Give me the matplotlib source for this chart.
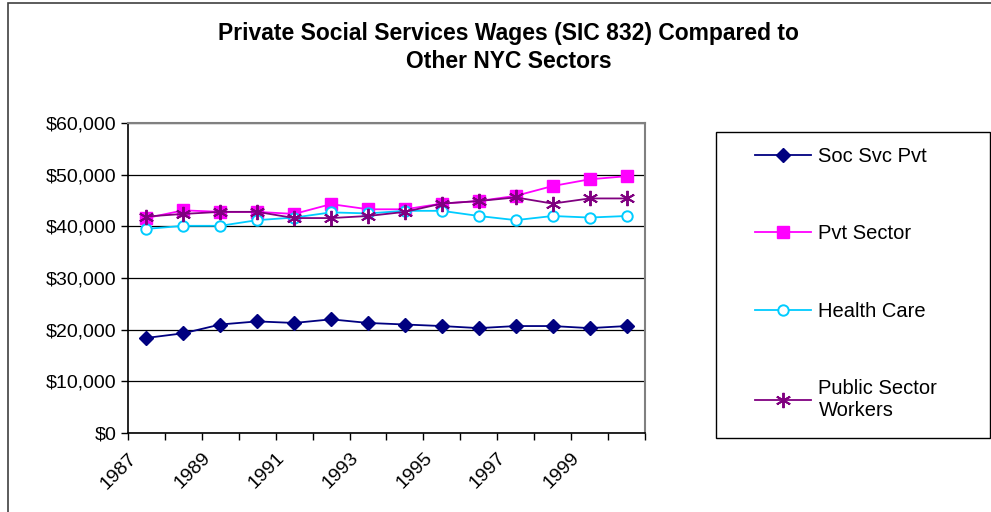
import matplotlib
matplotlib.use("Agg")
import matplotlib.pyplot as plt
from matplotlib.patches import Rectangle
from matplotlib.ticker import FuncFormatter

plt.rcParams['font.family'] = ['Liberation Sans', 'DejaVu Sans']

years = list(range(1987, 2001))
soc_svc_pvt = [18400, 19300, 21000, 21600, 21300, 22000, 21300,
               21000, 20700, 20300, 20700, 20700, 20300, 20700]
pvt_sector = [41600, 43100, 42800, 42800, 42400, 44300, 43300,
              43300, 44400, 44900, 45900, 47800, 49100, 49700]
health_care = [39500, 40100, 40100, 41200, 41700, 42700, 42500,
               43000, 43000, 42000, 41200, 42000, 41700, 42000]
public_sector = [41900, 42400, 42800, 42800, 41600, 41600, 42000,
                 42800, 44400, 44900, 45600, 44400, 45400, 45400]
labels = ['Soc Svc Pvt', 'Pvt Sector', 'Health Care', 'Public Sector\nWorkers']

fig = plt.figure(figsize=(9.91, 5.12), dpi=100)
ax = fig.add_axes([128/991, 1 - 433/512, (645 - 128)/991, (433 - 123)/512])

x = [i + 0.5 for i in range(len(years))]
h1, = ax.plot(x, soc_svc_pvt, color='#000080', marker='D', ms=7.5, lw=1.3, zorder=3)
h2, = ax.plot(x, pvt_sector, color='#FF00FF', marker='s', ms=8.5, lw=1.3, zorder=3)
h3, = ax.plot(x, health_care, color='#00CCFF', marker='o', ms=7.5, mfc='white',
              mew=1.4, lw=1.3, zorder=3)
h4, = ax.plot(x, public_sector, color='#800080', marker=(6, 2, 0), ms=11,
              mew=1.4, lw=1.3, zorder=3)

ax.set_xlim(0, len(years))
ax.set_ylim(0, 60000)
ax.set_yticks(range(0, 60001, 10000))
ax.yaxis.set_major_formatter(FuncFormatter(lambda v, p: '${:,.0f}'.format(v)))
ax.grid(axis='y', color='black', lw=0.9)
ax.set_axisbelow(True)

ax.set_xticks(range(0, len(years) + 1))
ax.set_xticklabels([str(y) if (y - 1987) % 2 == 0 else '' for y in years] + [''],
                   rotation=45, ha='right', rotation_mode='anchor')
ax.tick_params(axis='both', direction='out', length=5, width=1, labelsize=14,
               colors='black')
ax.tick_params(axis='x', pad=7)

for s in ['top', 'right']:
    ax.spines[s].set_color('#808080')
    ax.spines[s].set_linewidth(1.5)
for s in ['left', 'bottom']:
    ax.spines[s].set_color('black')
    ax.spines[s].set_linewidth(1.2)

fig.text(0.513, 0.907, 'Private Social Services Wages (SIC 832) Compared to\nOther NYC Sectors',
         ha='center', va='center', fontsize=16.5, fontweight='bold', linespacing=1.3)

# legend frame drawn separately
fig.add_artist(Rectangle((716/991, 1 - 438/512), (990 - 716)/991, (438 - 132)/512,
                         transform=fig.transFigure, fill=False, ec='black', lw=1))
fig.legend([h1, h2, h3, h4], labels, loc='upper left',
           bbox_to_anchor=(755/991, 1 - 147/512), frameon=False, fontsize=14.5,
           borderpad=0, borderaxespad=0, handlelength=2.8, handletextpad=0.35,
           labelspacing=2.9)

# outer chart border
fig.add_artist(Rectangle((8/991, -0.2), 1.2, 0.2 + 1 - 3/512,
                         transform=fig.transFigure, fill=False, ec='#404040', lw=1.2,
                         clip_on=False))

fig.savefig('out.png', dpi=100)
